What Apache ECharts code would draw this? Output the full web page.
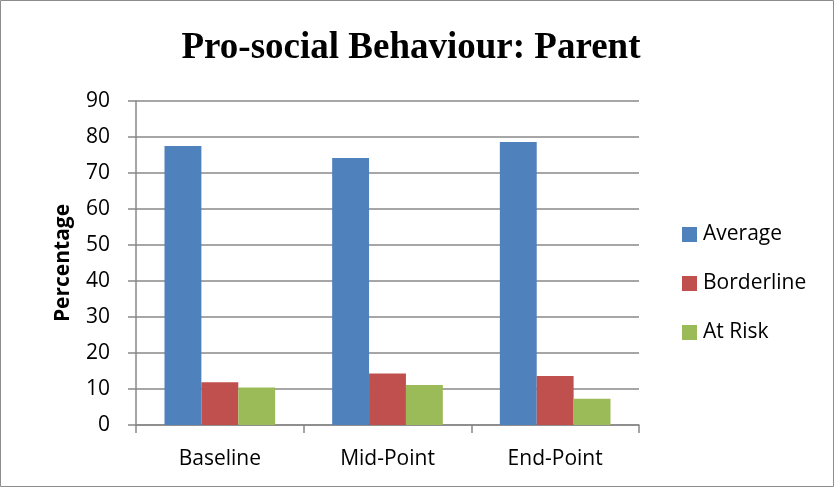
<!DOCTYPE html>
<html>
<head>
<meta charset="utf-8">
<script src="https://cdn.jsdelivr.net/npm/echarts@6/dist/echarts.min.js"></script>
<style>
html,body{margin:0;padding:0;background:#fff;}
#main{width:835px;height:488px;}
</style>
</head>
<body>
<div id="main"></div>
<script>
var categories = ['Baseline', 'Mid-Point', 'End-Point'];
var averageData = [77.5, 74.2, 78.6];
var borderlineData = [11.9, 14.3, 13.6];
var atRiskData = [10.4, 11.1, 7.3];
var yTicks = [0, 10, 20, 30, 40, 50, 60, 70, 80, 90];

var myChart = echarts.init(document.getElementById('main'));
var labelFont = 'Open Sans, Liberation Sans, sans-serif';
myChart.setOption({
    animation: false,
    title: {
        text: 'Pro-social Behaviour: Parent',
        left: 406,
        textAlign: 'center',
        top: 25,
        textStyle: {
            fontFamily: 'Liberation Serif',
            fontWeight: 'bold',
            fontSize: 37,
            color: '#000'
        }
    },
    legend: {
        orient: 'vertical',
        left: 682,
        top: 224,
        padding: 0,
        itemWidth: 15,
        itemHeight: 15,
        itemGap: 28,
        icon: 'rect',
        textStyle: { fontSize: 21, fontFamily: labelFont, color: '#000', padding: [0, 0, 0, 1] },
        data: ['Average', 'Borderline', 'At Risk']
    },
    grid: { left: 136, right: 196, top: 101, bottom: 63 },
    xAxis: {
        type: 'category',
        data: categories,
        axisLine: { lineStyle: { color: '#888', width: 1.5 } },
        axisTick: { show: true, length: 8, lineStyle: { color: '#888', width: 1.5 } },
        axisLabel: { fontSize: 21, fontFamily: labelFont, color: '#000', margin: 24 }
    },
    yAxis: {
        type: 'value',
        min: yTicks[0],
        max: yTicks[yTicks.length - 1],
        interval: 10,
        name: 'Percentage',
        nameLocation: 'middle',
        nameGap: 62,
        nameTextStyle: { fontSize: 21, fontWeight: 'bold', fontFamily: labelFont, color: '#000' },
        axisLine: { show: true, lineStyle: { color: '#888', width: 1.5 } },
        axisTick: { show: true, length: 8, lineStyle: { color: '#888', width: 1.5 } },
        axisLabel: { fontSize: 21, fontFamily: labelFont, color: '#000', margin: 26 },
        splitLine: { lineStyle: { color: '#888', width: 1.5 } }
    },
    series: [
        { name: 'Average', type: 'bar', data: averageData, barGap: 0, barCategoryGap: '34%', itemStyle: { color: '#4f81bd' } },
        { name: 'Borderline', type: 'bar', data: borderlineData, itemStyle: { color: '#c0504d' } },
        { name: 'At Risk', type: 'bar', data: atRiskData, itemStyle: { color: '#9bbb59' } }
    ],
    graphic: [{
        type: 'rect',
        shape: { x: 0.5, y: 0.5, width: 833, height: 486 },
        style: { fill: 'none', stroke: '#8c8c8c', lineWidth: 1 }
    }]
});
</script>
</body>
</html>
